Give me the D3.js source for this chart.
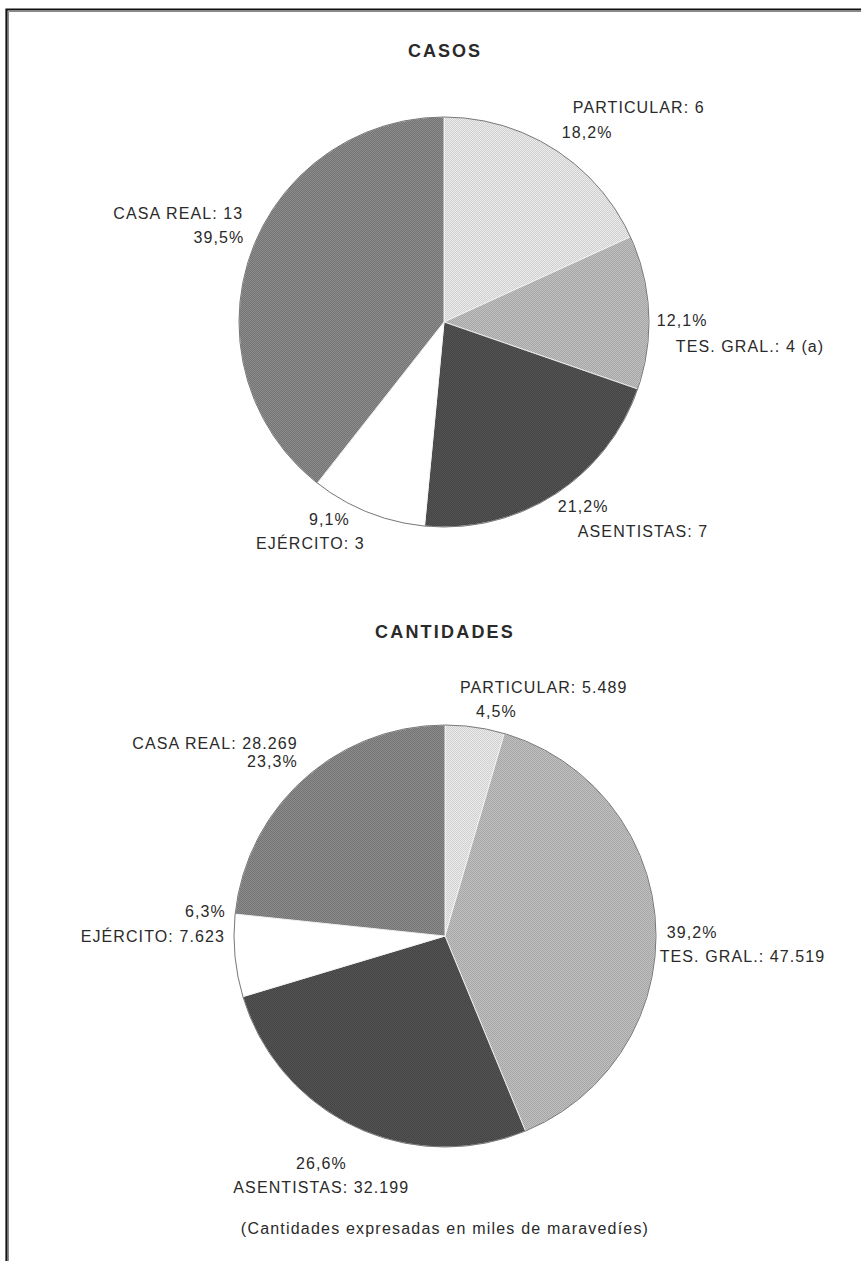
<!DOCTYPE html>
<html>
<head>
<meta charset="utf-8">
<script src="https://cdn.jsdelivr.net/npm/d3@7"></script>
<style>
  html, body { margin: 0; padding: 0; background: #fff; }
  svg { display: block; }
  text { font-family: "Liberation Sans", Arial, Helvetica, sans-serif; fill: #2a2a2a; }
</style>
</head>
<body>
<svg id="chart" width="861" height="1261"></svg>
<script>
// ---------------- DATA ----------------
const categories = ["PARTICULAR", "TES. GRAL.", "ASENTISTAS", "EJÉRCITO", "CASA REAL"];

const casosValues = [6, 4, 7, 3, 13];
const casosValueLabels = ["6", "4 (a)", "7", "3", "13"];
const casosPctLabels = ["18,2%", "12,1%", "21,2%", "9,1%", "39,5%"];

const cantidadesValues = [5489, 47519, 32199, 7623, 28269];
const cantidadesValueLabels = ["5.489", "47.519", "32.199", "7.623", "28.269"];
const cantidadesPctLabels = ["4,5%", "39,2%", "26,6%", "6,3%", "23,3%"];

const titles = ["CASOS", "CANTIDADES"];
const footnote = "(Cantidades expresadas en miles de maravedíes)";

// ---------------- STYLE / LAYOUT ----------------
const fills = {
  "PARTICULAR": ["#cfcfcf", "#ececec"],
  "TES. GRAL.": ["#a6a6a6", "#c0c0c0"],
  "ASENTISTAS": ["#444444", "#545454"],
  "EJÉRCITO":   ["#ffffff", "#ffffff"],
  "CASA REAL":  ["#747474", "#8c8c8c"]
};

// label layout per slice: anchor, offsets (from outer arc point at mid-angle) for name line and pct line,
// and which line comes first is implied by dy
const casosLayout = [
  { anchor: "start",  name: [18, -42], pct: [7, -17] },
  { anchor: "start",  name: [27, 34],  pct: [8, 8] },
  { anchor: "start",  name: [23, 37],  pct: [3, 12] },
  { anchor: "end",    name: [-3, 31],  pct: [-18, 7] },
  { anchor: "end",    name: [-7, -42], pct: [-6, -18] }
];
const cantidadesLayout = [
  { anchor: "start",  name: [-15, -40], pct: [1, -16] },
  { anchor: "start",  name: [4, 31],    pct: [11, 7] },
  { anchor: "middle", name: [-33, 61],  pct: [-33, 37] },
  { anchor: "end",    name: [-10, -20], pct: [-9, -45] },
  { anchor: "end",    name: [-6, -36],  pct: [-6, -18] }
];

const svg = d3.select("#chart");

// dither patterns
const defs = svg.append("defs");
categories.forEach((c, i) => {
  const p = defs.append("pattern")
    .attr("id", "pat" + i)
    .attr("patternUnits", "userSpaceOnUse")
    .attr("width", 2).attr("height", 2);
  p.append("rect").attr("width", 2).attr("height", 2).attr("fill", fills[c][0]);
  p.append("rect").attr("width", 1).attr("height", 1).attr("fill", fills[c][1]);
  p.append("rect").attr("x", 1).attr("y", 1).attr("width", 1).attr("height", 1).attr("fill", fills[c][1]);
});

// frame (top + left)
svg.append("path").attr("d", "M6.5,1261 V9.5 H861").attr("fill", "none")
  .attr("stroke", "#111").attr("stroke-width", 2.2);
svg.append("path").attr("d", "M8.5,1261 V11.5 H861").attr("fill", "none")
  .attr("stroke", "#8a8a8a").attr("stroke-width", 1);

const pie = d3.pie().sort(null).value(d => d.value);

function drawPie(cx, cy, r, values, valueLabels, pctLabels, layout) {
  const data = categories.map((c, i) => ({ cat: c, i, value: values[i] }));
  const arcs = pie(data);
  const arc = d3.arc().innerRadius(0).outerRadius(r);
  const g = svg.append("g").attr("transform", `translate(${cx},${cy})`);

  g.selectAll("path.slice").data(arcs).join("path")
    .attr("class", "slice")
    .attr("d", arc)
    .attr("fill", d => `url(#pat${d.data.i})`)
    .attr("stroke", "#f4f4f4")
    .attr("stroke-width", 0.9);

  g.append("circle").attr("r", r).attr("fill", "none")
    .attr("stroke", "#6a6a6a").attr("stroke-width", 0.9);

  arcs.forEach(a => {
    const mid = (a.startAngle + a.endAngle) / 2;
    const px = r * Math.sin(mid), py = -r * Math.cos(mid);
    const L = layout[a.data.i];
    g.append("text")
      .attr("x", px + L.name[0]).attr("y", py + L.name[1])
      .attr("dy", "0.36em")
      .attr("text-anchor", L.anchor)
      .style("font-size", "16px").style("letter-spacing", "1.1px")
      .text(a.data.cat + ": " + valueLabels[a.data.i]);
    g.append("text")
      .attr("x", px + L.pct[0]).attr("y", py + L.pct[1])
      .attr("dy", "0.36em")
      .attr("text-anchor", L.anchor)
      .style("font-size", "16px").style("letter-spacing", "1.1px")
      .text(pctLabels[a.data.i]);
  });
}

// titles
svg.append("text").attr("x", 445).attr("y", 51).attr("dy", "0.36em")
  .attr("text-anchor", "middle").style("font-size", "18px").style("font-weight", "bold")
  .style("letter-spacing", "2px").text(titles[0]);
svg.append("text").attr("x", 445).attr("y", 632).attr("dy", "0.36em")
  .attr("text-anchor", "middle").style("font-size", "18px").style("font-weight", "bold")
  .style("letter-spacing", "2.2px").text(titles[1]);

drawPie(444, 322, 205, casosValues, casosValueLabels, casosPctLabels, casosLayout);
drawPie(445, 936, 211, cantidadesValues, cantidadesValueLabels, cantidadesPctLabels, cantidadesLayout);

// footnote
svg.append("text").attr("x", 445).attr("y", 1228).attr("dy", "0.36em")
  .attr("text-anchor", "middle").style("font-size", "16px").style("letter-spacing", "1.2px")
  .text(footnote);
</script>
</body>
</html>
